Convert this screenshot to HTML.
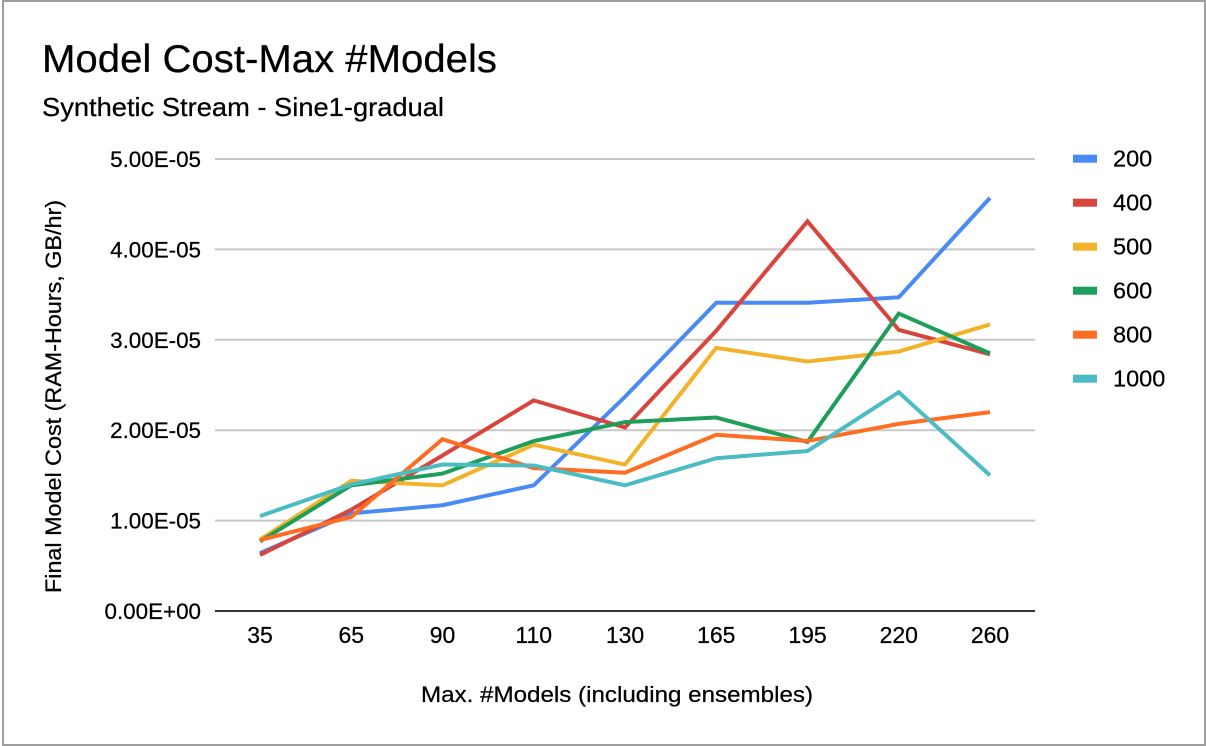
<!DOCTYPE html>
<html lang="en">
<head>
<meta charset="utf-8">
<title>Model Cost-Max #Models</title>
<style>
  html, body { margin: 0; padding: 0; background: #fff; }
  body { width: 1206px; height: 746px; overflow: hidden; }
  svg { display: block; }
  text { font-family: "Liberation Sans", Arial, sans-serif; fill: #000; stroke: #000; stroke-width: 0.25px; }
</style>
</head>
<body>
<svg id="chart" width="1206" height="746" viewBox="0 0 1206 746" xmlns="http://www.w3.org/2000/svg">
  <rect x="0" y="0" width="1206" height="746" fill="#fff"/>
  <rect x="3" y="1" width="1202" height="744" fill="none" stroke="#9e9e9e" stroke-width="2"/>
  <text x="42" y="72" font-size="39" textLength="455" lengthAdjust="spacingAndGlyphs">Model Cost-Max #Models</text>
  <text x="42" y="116" font-size="26" textLength="402" lengthAdjust="spacingAndGlyphs">Synthetic Stream - Sine1-gradual</text>
  <text transform="translate(61,593) rotate(-90)" font-size="22.5" textLength="393" lengthAdjust="spacingAndGlyphs">Final Model Cost (RAM-Hours, GB/hr)</text>
  <text x="421" y="702" font-size="22.5" textLength="392" lengthAdjust="spacingAndGlyphs">Max. #Models (including ensembles)</text>
  <g id="grid"></g>
  <g id="yticks"></g>
  <g id="xticks"></g>
  <g id="series"></g>
  <line id="baseline" stroke="#333" stroke-width="2"/>
  <g id="legend"></g>
</svg>
<script>
const categories = ["35", "65", "90", "110", "130", "165", "195", "220", "260"];
const yTickValues = [0, 1, 2, 3, 4, 5];
const yTickLabels = ["0.00E+00", "1.00E-05", "2.00E-05", "3.00E-05", "4.00E-05", "5.00E-05"];
const seriesNames = ["200", "400", "500", "600", "800", "1000"];
const seriesColors = ["#4a8af4", "#d9453d", "#f3b329", "#1f9d5a", "#ff6d22", "#4bbcc4"];
const values200 = [0.64, 1.08, 1.17, 1.39, 2.37, 3.41, 3.41, 3.47, 4.57];
const values400 = [0.62, 1.12, 1.72, 2.33, 2.03, 3.10, 4.31, 3.11, 2.84];
const values500 = [0.79, 1.44, 1.39, 1.84, 1.62, 2.91, 2.76, 2.87, 3.17];
const values600 = [0.77, 1.39, 1.52, 1.88, 2.09, 2.14, 1.87, 3.29, 2.85];
const values800 = [0.785, 1.04, 1.90, 1.58, 1.53, 1.95, 1.88, 2.07, 2.20];
const values1000 = [1.05, 1.40, 1.62, 1.61, 1.39, 1.69, 1.77, 2.42, 1.50];
const seriesValues = [values200, values400, values500, values600, values800, values1000];

const NS = "http://www.w3.org/2000/svg";
const plotLeft = 215, plotRight = 1035, plotBaseline = 611, plotTop = 159;
const firstX = 260, lastX = 990, yMax = 5;

function xScale(i) {
  return firstX + i * (lastX - firstX) / (categories.length - 1);
}
function yScale(v) {
  return plotBaseline - v * (plotBaseline - plotTop) / yMax;
}
function make(tag, parent, attrs, content) {
  const el = document.createElementNS(NS, tag);
  for (const k in attrs) el.setAttribute(k, attrs[k]);
  if (content !== undefined) el.textContent = content;
  parent.appendChild(el);
  return el;
}

const gridGroup = document.getElementById("grid");
const yTickGroup = document.getElementById("yticks");
yTickValues.forEach(function (v, i) {
  if (v !== 0) {
    const gl = make("line", gridGroup, { x1: plotLeft, x2: plotRight, y1: yScale(v), y2: yScale(v), stroke: "#c8c8c8", "stroke-width": 2 });
    
    
  }
  const t = make("text", yTickGroup, { x: 201, y: yScale(v) + 8, "font-size": 22.4, "text-anchor": "end" }, yTickLabels[i]);
  
  
});

const xTickGroup = document.getElementById("xticks");
categories.forEach(function (c, i) {
  const t = make("text", xTickGroup, { x: xScale(i), y: 643, "font-size": 23, "text-anchor": "middle" }, c);
  
  
});

const seriesGroup = document.getElementById("series");
seriesValues.forEach(function (vals, s) {
  const pts = vals.map(function (v, i) { return xScale(i) + "," + yScale(v); }).join(" ");
  const line = make("polyline", seriesGroup, { points: pts, fill: "none", stroke: seriesColors[s], "stroke-width": 4 });
  
  
});

const baseline = document.getElementById("baseline");
baseline.setAttribute("x1", plotLeft);
baseline.setAttribute("x2", plotRight);
baseline.setAttribute("y1", plotBaseline);
baseline.setAttribute("y2", plotBaseline);

const legendGroup = document.getElementById("legend");
seriesNames.forEach(function (name, s) {
  const cy = 158.7 + s * 44;
  const swatch = make("rect", legendGroup, { x: 1073, y: cy - 4, width: 24, height: 8, fill: seriesColors[s] });
  
  
  const label = make("text", legendGroup, { x: 1113, y: cy + 8, "font-size": 23.5 }, name);
  
  
});
</script>
</body>
</html>
